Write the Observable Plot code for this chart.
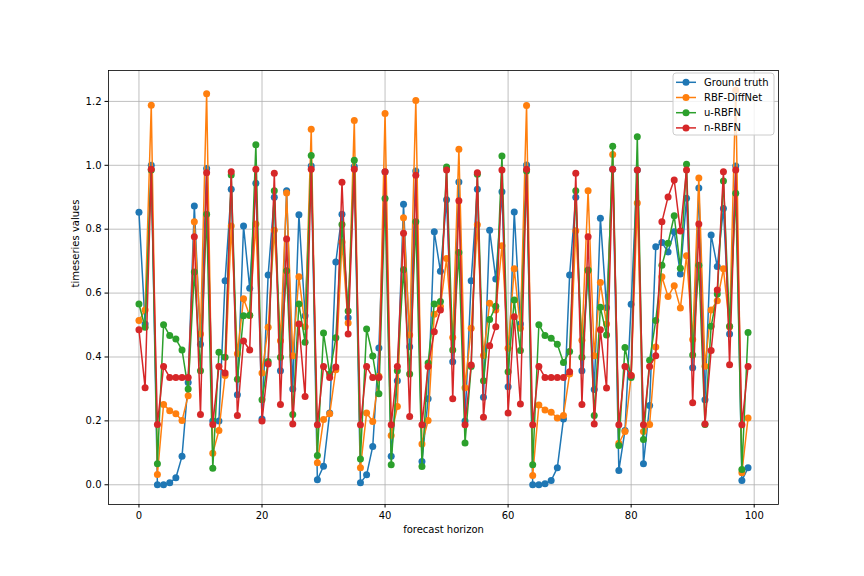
<!DOCTYPE html>
<html>
<head>
<meta charset="utf-8">
<script src="https://cdn.jsdelivr.net/npm/d3@7"></script>
<script src="https://cdn.jsdelivr.net/npm/@observablehq/plot@0.6"></script>
<style>
  html, body { margin: 0; padding: 0; background: #ffffff; }
  #chart { width: 864px; height: 576px; }
</style>
</head>
<body>
<div id="chart"></div>
<script>
const groundTruth = [0.853,0.503,1.0,0.0,0.0,0.006,0.022,0.089,0.32,0.873,
0.44,0.99,0.2,0.2,0.639,0.925,0.282,0.81,0.615,0.944,
0.206,0.657,0.9,0.357,0.92,0.3,0.845,0.529,0.998,0.016,
0.058,0.225,0.697,0.847,0.523,0.996,0.006,0.031,0.12,0.428,
0.98,0.089,0.326,0.878,0.432,0.982,0.073,0.269,0.792,0.668,
0.892,0.385,0.948,0.2,0.639,0.925,0.274,0.797,0.644,0.917,
0.307,0.854,0.503,1.001,0.0,0.0,0.003,0.0135,0.053,0.206,
0.657,0.9,0.357,0.67,0.298,0.834,0.554,0.9875,0.045,0.17,
0.565,0.985,0.066,0.248,0.745,0.758,0.729,0.792,0.66,0.897,
0.366,0.929,0.266,0.782,0.683,0.865,0.472,0.998,0.0135,0.053];

const rbfDiffNet = [0.514,0.547,1.188,0.032,0.251,0.232,0.222,0.201,0.279,0.823,
0.472,1.224,0.099,0.17,0.342,0.81,0.41,0.582,0.53,0.816,
0.35,0.493,0.797,0.451,0.913,0.404,0.651,0.495,1.113,0.069,
0.204,0.222,0.36,0.76,0.506,1.14,0.053,0.225,0.198,0.34,
1.1625,0.154,0.245,0.836,0.469,1.203,0.128,0.201,0.534,0.558,
0.708,0.461,1.05,0.304,0.49,0.814,0.405,0.568,0.547,0.748,
0.427,0.676,0.49,1.1875,0.029,0.25,0.234,0.227,0.209,0.217,
0.347,0.795,0.452,0.92,0.404,0.633,0.503,1.034,0.13,0.167,
0.342,0.882,0.167,0.189,0.431,0.651,0.589,0.623,0.553,0.717,
0.455,0.96,0.371,0.547,0.576,0.676,0.495,1.235,0.0375,0.209];

const uRBFN = [0.566,0.493,0.985,0.066,0.501,0.467,0.456,0.422,0.30,0.666,
0.357,0.847,0.052,0.415,0.399,0.97,0.33,0.529,0.531,1.064,
0.266,0.386,0.92,0.399,0.67,0.22,0.566,0.446,1.031,0.092,
0.475,0.347,0.46,0.815,0.544,1.016,0.081,0.4875,0.403,0.285,
0.896,0.0625,0.357,0.673,0.347,0.823,0.057,0.381,0.566,0.574,
0.995,0.422,0.727,0.131,0.37,0.972,0.326,0.517,0.559,1.029,
0.354,0.578,0.42,0.982,0.0625,0.501,0.467,0.459,0.44,0.383,
0.417,0.92,0.399,0.672,0.217,0.556,0.469,1.06,0.123,0.43,
0.336,1.089,0.142,0.39,0.514,0.6875,0.756,0.842,0.678,1.003,
0.406,0.6875,0.189,0.496,0.597,0.951,0.496,0.9125,0.048,0.477];

const nRBFN = [0.485,0.304,0.988,0.189,0.370,0.336,0.336,0.336,0.336,0.776,
0.22,0.977,0.189,0.370,0.35,0.98,0.217,0.45,0.422,0.988,
0.2,0.378,0.975,0.251,0.769,0.19,0.503,0.276,0.988,0.1875,
0.37,0.336,0.369,0.947,0.472,0.988,0.1875,0.37,0.336,0.336,
0.98,0.1875,0.37,0.7875,0.214,0.969,0.1875,0.37,0.479,0.547,
0.985,0.269,0.889,0.1875,0.375,0.977,0.211,0.435,0.495,0.985,
0.225,0.526,0.253,0.988,0.1875,0.37,0.336,0.336,0.336,0.336,
0.354,0.975,0.251,0.776,0.19,0.485,0.303,0.988,0.1875,0.37,
0.342,0.985,0.1875,0.37,0.404,0.823,0.901,0.954,0.794,0.985,
0.257,0.816,0.19,0.42,0.61,0.98,0.376,0.985,0.1875,0.37];

const seriesNames = ["Ground truth", "RBF-DiffNet", "u-RBFN", "n-RBFN"];
const seriesColors = ["#1f77b4", "#ff7f0e", "#2ca02c", "#d62728"];
const seriesValues = [groundTruth, rbfDiffNet, uRBFN, nRBFN];
const xTicks = [0, 20, 40, 60, 80, 100];
const yTicks = [0.0, 0.2, 0.4, 0.6, 0.8, 1.0, 1.2];

const series = seriesValues.map((vals, k) =>
  vals.map((v, i) => ({ horizon: i, value: v, name: seriesNames[k] })));

const marks = [
  Plot.gridX(xTicks, { stroke: "#b0b0b0", strokeOpacity: 1, strokeWidth: 0.8 }),
  Plot.gridY(yTicks, { stroke: "#b0b0b0", strokeOpacity: 1, strokeWidth: 0.8 })
];
series.forEach((d, k) => {
  marks.push(Plot.line(d, { x: "horizon", y: "value", stroke: seriesColors[k], strokeWidth: 1.5 }));
  marks.push(Plot.dot(d, { x: "horizon", y: "value", fill: seriesColors[k], r: 3.5, stroke: "none" }));
});
marks.push(
  Plot.frame({ stroke: "black", strokeWidth: 0.8 }),
  Plot.axisX({ ticks: xTicks, tickSize: 3.5, tickPadding: 3.5, fontSize: 10, label: null }),
  Plot.axisY({ ticks: yTicks, tickFormat: d3.format(".1f"), tickSize: 3.5, tickPadding: 3.5, fontSize: 10, label: null }),
  Plot.text(["forecast horizon"], { text: d => d, frameAnchor: "bottom", dy: 25, lineAnchor: "middle", fontSize: 10, fill: "black" }),
  Plot.text(["timeseries values"], { text: d => d, frameAnchor: "left", dx: -33, rotate: -90, fontSize: 10, fill: "black" })
);

const chart = Plot.plot({
  width: 864,
  height: 576,
  marginLeft: 108,
  marginRight: 86,
  marginTop: 70,
  marginBottom: 72,
  x: { domain: [-4.95, 103.95] },
  y: { domain: [-0.06175, 1.29675] },
  style: { fontFamily: "DejaVu Sans", fontSize: "10px", color: "black", background: "white" },
  marks
});

const svg = d3.select(chart);
const lg = svg.append("g").attr("font-family", "DejaVu Sans").attr("font-size", 10).attr("text-anchor", "start");
lg.append("rect")
  .attr("x", 673).attr("y", 73).attr("width", 101).attr("height", 62)
  .attr("rx", 3).attr("ry", 3)
  .attr("fill", "white").attr("fill-opacity", 0.8)
  .attr("stroke", "#cccccc").attr("stroke-width", 1);
seriesNames.forEach((name, k) => {
  const cy = 82.3 + k * 15.2;
  lg.append("line").attr("x1", 676).attr("x2", 696).attr("y1", cy).attr("y2", cy)
    .attr("stroke", seriesColors[k]).attr("stroke-width", 1.5);
  lg.append("circle").attr("cx", 686).attr("cy", cy).attr("r", 3.5).attr("fill", seriesColors[k]);
  lg.append("text").attr("x", 704).attr("y", cy).attr("dy", "0.35em")
    .attr("text-anchor", "start").attr("fill", "black").text(name);
});

document.getElementById("chart").appendChild(chart);
</script>
</body>
</html>
